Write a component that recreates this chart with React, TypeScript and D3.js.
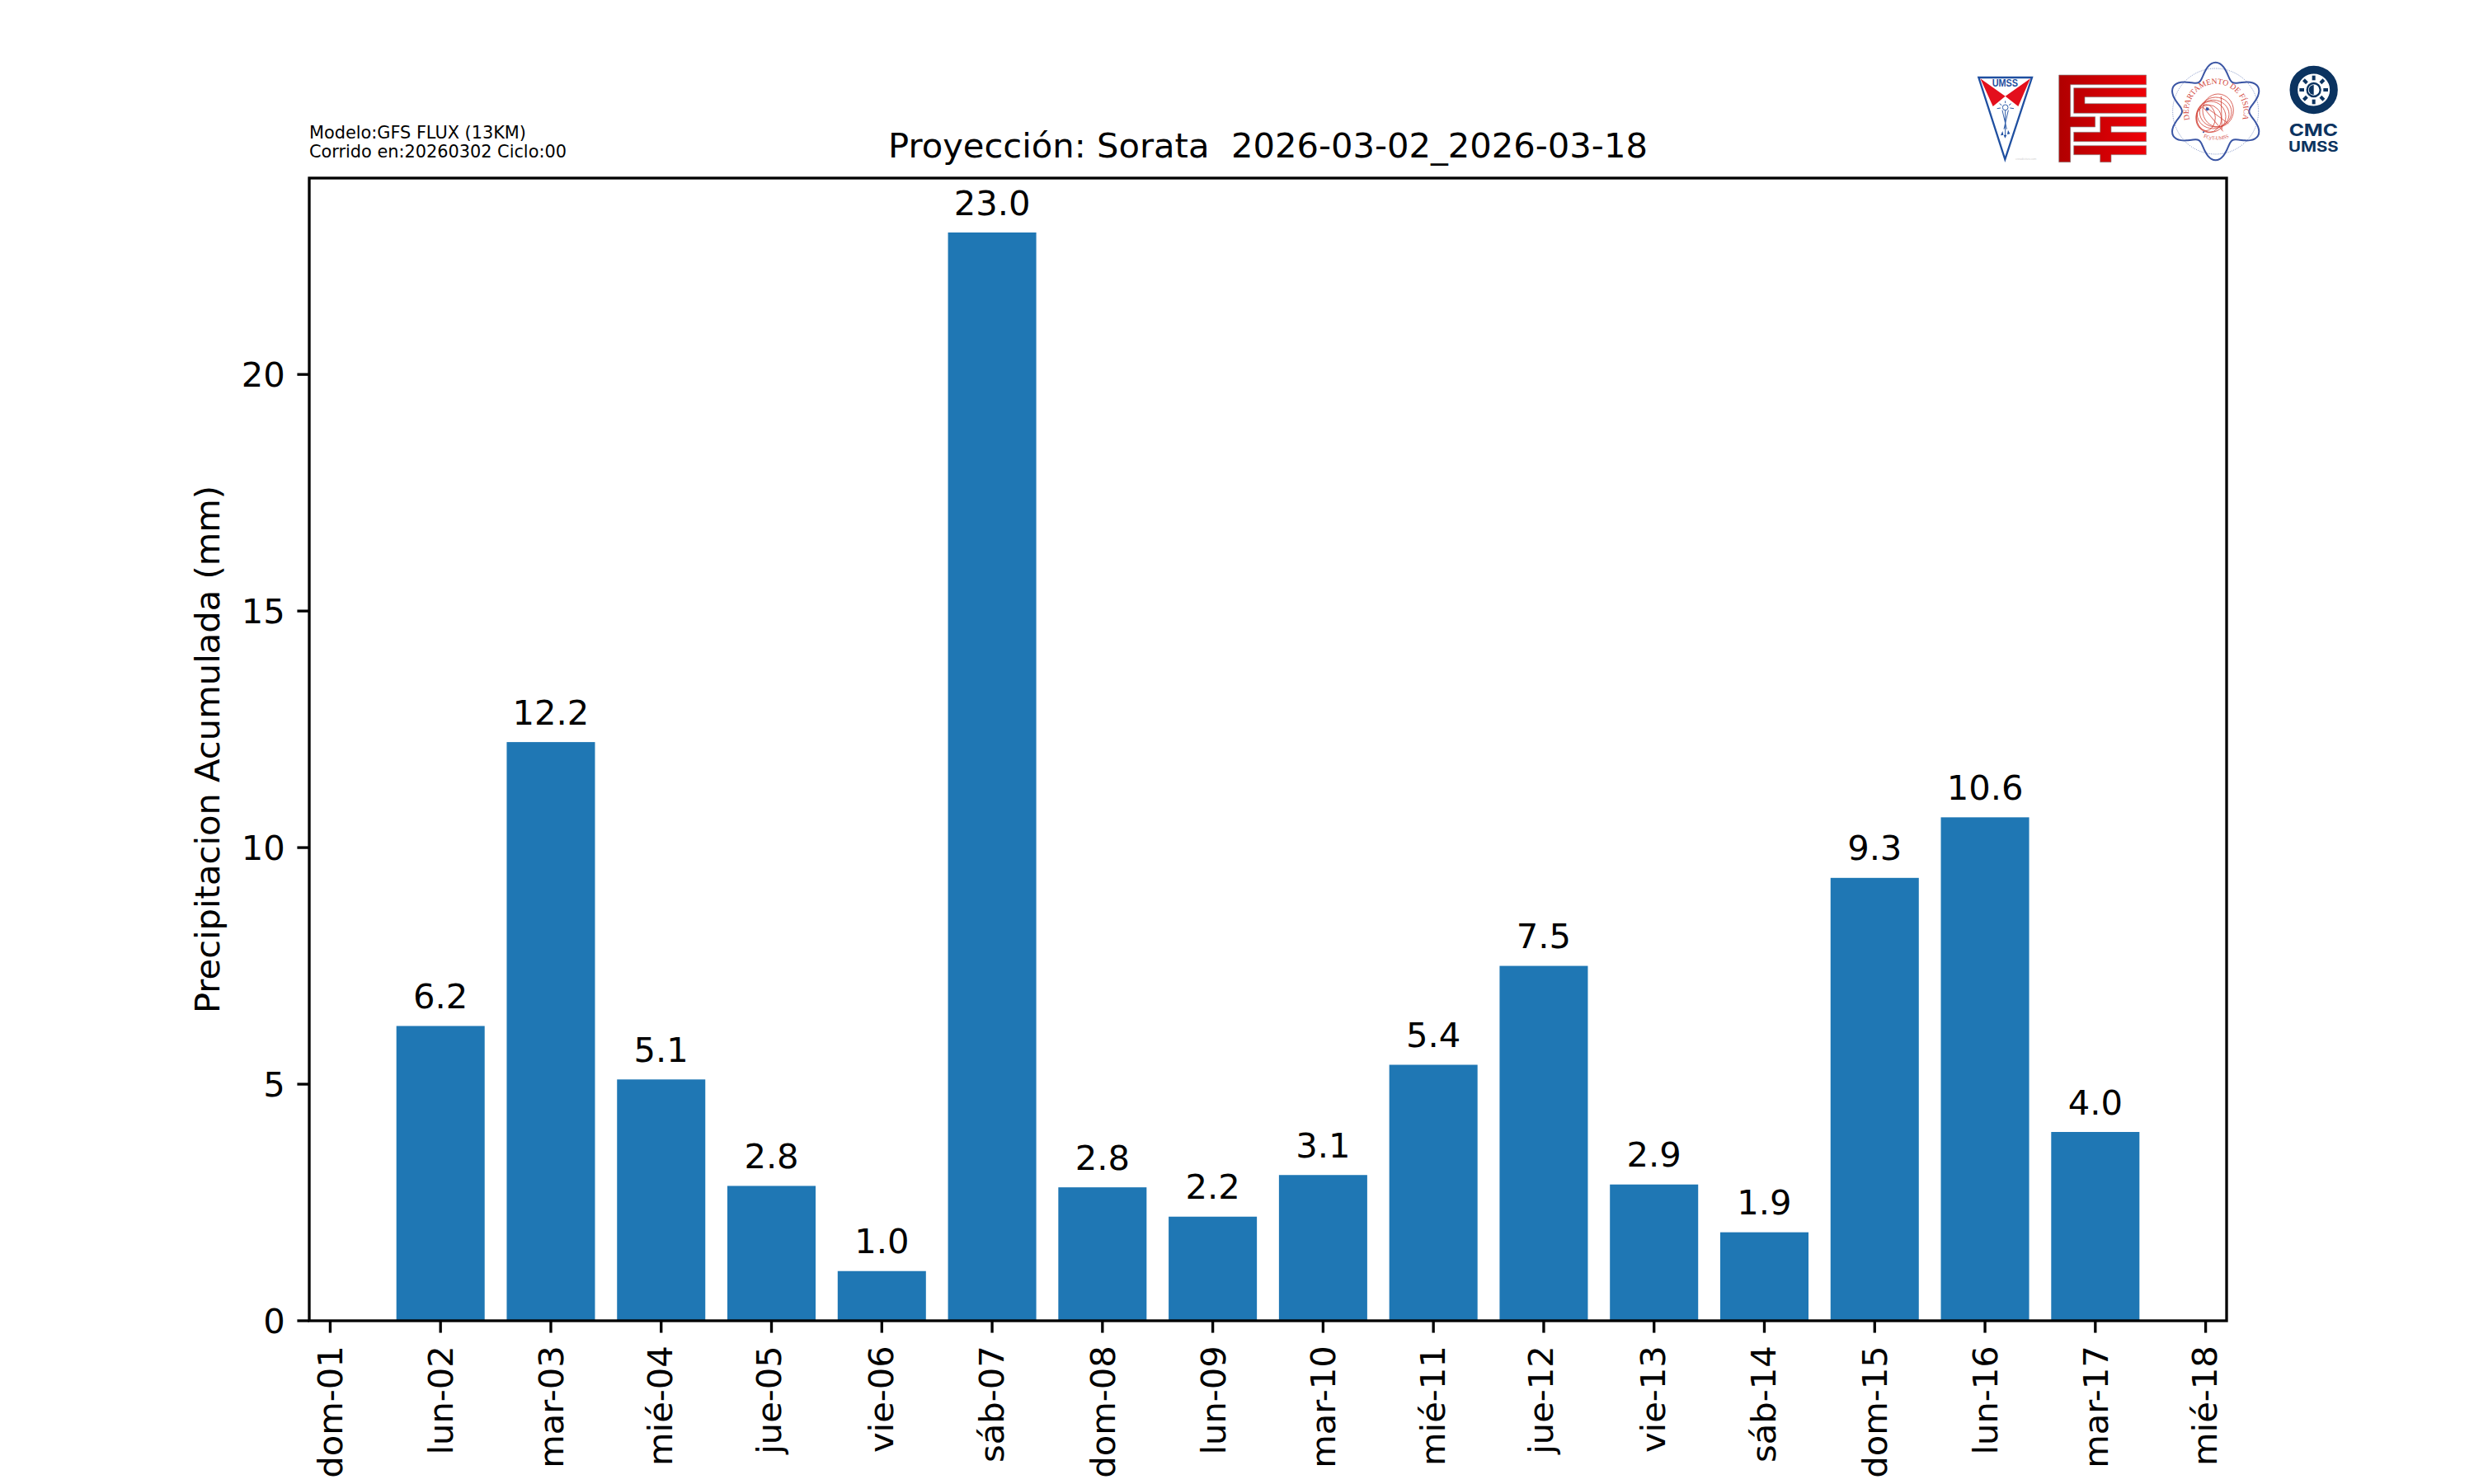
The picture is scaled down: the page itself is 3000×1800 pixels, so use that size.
import React, { useEffect, useRef } from 'react'
import * as d3 from 'd3'

const WIDTH = 3000
const HEIGHT = 1800

const tickDays = [1, 2, 3, 4, 5, 6, 7, 8, 9, 10, 11, 12, 13, 14, 15, 16, 17, 18]
const tickLabels = ['dom-01', 'lun-02', 'mar-03', 'mié-04', 'jue-05', 'vie-06', 'sáb-07', 'dom-08', 'lun-09', 'mar-10', 'mié-11', 'jue-12', 'vie-13', 'sáb-14', 'dom-15', 'lun-16', 'mar-17', 'mié-18']
const barDays = [2, 3, 4, 5, 6, 7, 8, 9, 10, 11, 12, 13, 14, 15, 16, 17]
const barValues = [6.23, 12.23, 5.1, 2.85, 1.05, 23.0, 2.82, 2.2, 3.08, 5.41, 7.5, 2.88, 1.87, 9.36, 10.64, 3.99]
const barLabels = ['6.2', '12.2', '5.1', '2.8', '1.0', '23.0', '2.8', '2.2', '3.1', '5.4', '7.5', '2.9', '1.9', '9.3', '10.6', '4.0']
const yTicks = [0, 5, 10, 15, 20]

const FONT = '"DejaVu Sans", sans-serif'
const PT = 300 / 72 // figure was 300 dpi

const NAVY = '#0b3360'
const FISICA_BLUE = '#3a55a4'
const FISICA_RED = '#d2453a'

// rotated labels are centred on their own box, so the baseline shifts with the glyphs
const labelShift = (label: string) => {
    if (label.startsWith('jue')) return 11
    if (/^(mié|vie|sáb)/.test(label)) return 13.5
    return 15
}

function UmssLogo() {
    return (
        <g transform="translate(2390,85) scale(0.3333)">
            <path d="M28,27 L222,27 L124,325 Z" fill="#fff" stroke="#1f4fa0" strokeWidth={7} strokeLinejoin="miter" />
            <path d="M34,31 L125,95 L80,132 Z" fill="#e30f1c" />
            <path d="M216,31 L125,95 L172,132 Z" fill="#e30f1c" />
            <text x={124} y={60} textAnchor="middle" fontFamily="Liberation Sans" fontWeight="bold" fontSize={36} fill="#1f4fa0" textLength={94} lengthAdjust="spacingAndGlyphs">UMSS</text>
            <g fill="none" stroke="#2f5ca8" strokeWidth={3}>
                <circle cx={125} cy={136} r={10} />
                <path d="M114,146 L130,215 M136,146 L120,215 M125,146 L125,240" />
                <path d="M95,140 L108,138 M142,138 L156,140 M104,122 L112,128 M146,122 L138,128 M125,112 L125,120" />
            </g>
            <path d="M108,238 L115,222 L118,236 Z M142,232 L135,218 L132,234 Z M124,248 L119,236 L130,236 Z" fill="#1f4fa0" />
            <text x={200} y={328} textAnchor="middle" fontFamily="Liberation Sans" fontSize={11} fill="#cfcfcf">creadictivo.com</text>
        </g>
    )
}

function FcytLogo() {
    return (
        <g transform="translate(2490,85) scale(0.3333)" fill="url(#fcytRed)" stroke="#8a8a8a" strokeWidth={2}>
            <path d="M20,18 H338 V53 H62 V170 H152 V207 H62 V335 H20 Z" />
            <path d="M74,65 H338 V98 H114 V122 H338 V157 H74 Z" />
            <path d="M170,170 H338 V205 H210 V226 H338 V260 H74 V226 H170 Z" />
            <path d="M74,275 H338 V308 H210 V335 H170 V308 H74 Z" />
        </g>
    )
}

function FisicaLogo() {
    // six-lobed outline of the seal
    const outline = d3.lineRadial<number>()
        .angle(a => a)
        .radius(a => 150 + 28 * Math.cos(6 * a))
        .curve(d3.curveCardinalClosed)(d3.range(0, Math.PI * 2, Math.PI / 36))
    return (
        <g transform="translate(2625,70) scale(0.3333)">
            <defs>
                <path id="fisicaArc" d="M102,248 A100,100 0 1 1 272,248" />
                <path id="fcytArc" d="M105,268 A125,125 0 0 0 269,268" />
            </defs>
            <circle cx={185} cy={195} r={156} fill="none" stroke={FISICA_BLUE} strokeWidth={2} strokeDasharray="3 4" />
            <path d={outline ?? ''} transform="translate(185,195)" fill="none" stroke={FISICA_BLUE} strokeWidth={6} />
            <text fontFamily='"Liberation Serif", serif' fontSize={29} fill={FISICA_RED}>
                <textPath href="#fisicaArc" startOffset="50%" textAnchor="middle">DEPARTAMENTO DE FÍSICA</textPath>
            </text>
            <text fontFamily='"Liberation Serif", serif' fontSize={18} fill={FISICA_RED}>
                <textPath href="#fcytArc" startOffset="50%" textAnchor="middle">FCyT-UMSS</textPath>
            </text>
            <g fill="none" stroke={FISICA_RED} strokeWidth={2.5}>
                <ellipse cx={194} cy={192} rx={56} ry={60} />
                <ellipse cx={185} cy={198} rx={58} ry={54} />
                <ellipse cx={176} cy={206} rx={58} ry={52} />
                <ellipse cx={168} cy={215} rx={54} ry={56} />
                <ellipse cx={160} cy={222} rx={46} ry={50} />
                <ellipse cx={150} cy={218} rx={34} ry={48} />
                <path d="M138,178 L212,268 M150,180 L232,240 M205,140 L208,262" />
            </g>
            <circle cx={155} cy={187} r={6} fill={FISICA_BLUE} />
            <circle cx={141} cy={271} r={3} fill={FISICA_BLUE} />
        </g>
    )
}

function CmcLogo() {
    const rays = d3.range(0, 360, 45)
    return (
        <g transform="translate(2765,75) scale(0.3333)">
            <circle cx={122} cy={102} r={73} fill="none" stroke={NAVY} strokeWidth={29} />
            <circle cx={122} cy={102} r={24} fill="none" stroke={NAVY} strokeWidth={7} />
            <path d="M122,84 A18,18 0 0 0 122,120 Z" fill={NAVY} />
            {rays.map(r => (
                <rect key={r} x={116} y={50} width={12} height={17} fill={NAVY} transform={`rotate(${r} 122 102)`} />
            ))}
            <text x={121} y={269} textAnchor="middle" fontFamily="Inter" fontWeight="bold" fontSize={62} fill={NAVY} textLength={178} lengthAdjust="spacingAndGlyphs">CMC</text>
            <text x={121} y={328} textAnchor="middle" fontFamily="Inter" fontWeight="bold" fontSize={50} fill={NAVY} textLength={182} lengthAdjust="spacingAndGlyphs">UMSS</text>
        </g>
    )
}

export default function App() {
    const chartRef = useRef<SVGGElement>(null)

    useEffect(() => {
        if (!chartRef.current) return

        const g = d3.select(chartRef.current)
        g.selectAll('*').remove()

        const margin = { top: 216, right: 300, bottom: 198, left: 375 }
        const x = d3.scaleLinear().domain([0.81, 18.19]).range([margin.left, WIDTH - margin.right])
        const y = d3.scaleLinear().domain([0, 24.15]).range([HEIGHT - margin.bottom, margin.top])
        const bar = 0.8

        const rows = barDays.map((day, i) => ({ day, value: barValues[i], label: barLabels[i] }))

        g.append('g')
            .selectAll('rect')
            .data(rows)
            .enter().append('rect')
            .attr('x', d => x(d.day - bar / 2))
            .attr('y', d => y(d.value))
            .attr('width', d => x(d.day + bar / 2) - x(d.day - bar / 2))
            .attr('height', d => y(0) - y(d.value))
            .attr('fill', '#1f77b4')

        g.append('g')
            .selectAll('text')
            .data(rows)
            .enter().append('text')
            .attr('x', d => x(d.day))
            .attr('y', d => y(d.value) - 21.5)
            .attr('text-anchor', 'middle')
            .attr('font-family', FONT)
            .attr('font-size', 10 * PT)
            .text(d => d.label)

        // X Axis
        const xAxis = g.append('g')
            .attr('transform', `translate(0,${y(0)})`)
            .call(d3.axisBottom(x)
                .tickValues(tickDays)
                .tickFormat((_, i) => tickLabels[i])
                .tickSize(3.5 * PT)
                .offset(0))
        xAxis.select('.domain').remove()
        xAxis.selectAll('line').attr('stroke', '#000').attr('stroke-width', 0.8 * PT)
        xAxis.selectAll('text')
            .attr('y', 0)
            .attr('dy', 0)
            .attr('transform', (_, i) => `translate(${labelShift(tickLabels[i])},${7 * PT + 1}) rotate(-90)`)
            .attr('text-anchor', 'end')
            .attr('font-family', FONT)
            .attr('font-size', 10 * PT)
            .attr('fill', '#000')

        // Y Axis
        const yAxis = g.append('g')
            .attr('transform', `translate(${margin.left},0)`)
            .call(d3.axisLeft(y).tickValues(yTicks).tickSize(3.5 * PT).offset(0))
        yAxis.select('.domain').remove()
        yAxis.selectAll('line').attr('stroke', '#000').attr('stroke-width', 0.8 * PT)
        yAxis.selectAll('text')
            .attr('x', -7 * PT)
            .attr('dy', '0.36em')
            .attr('font-family', FONT)
            .attr('font-size', 10 * PT)
            .attr('fill', '#000')

        // frame
        g.append('rect')
            .attr('x', margin.left)
            .attr('y', margin.top)
            .attr('width', WIDTH - margin.left - margin.right)
            .attr('height', HEIGHT - margin.top - margin.bottom)
            .attr('fill', 'none')
            .attr('stroke', '#000')
            .attr('stroke-width', 0.8 * PT)

        g.append('text')
            .attr('transform', `translate(266,${(margin.top + HEIGHT - margin.bottom) / 2}) rotate(-90)`)
            .attr('text-anchor', 'middle')
            .attr('font-family', FONT)
            .attr('font-size', 10 * PT)
            .text('Precipitacion Acumulada (mm)')

        g.append('text')
            .attr('x', (margin.left + WIDTH - margin.right) / 2)
            .attr('y', margin.top - 6 * PT)
            .attr('text-anchor', 'middle')
            .attr('font-family', FONT)
            .attr('font-size', 10 * PT)
            .style('white-space', 'pre')
            .text('Proyección: Sorata  2026-03-02_2026-03-18')

        const note = g.append('g')
            .attr('font-family', FONT)
            .attr('font-size', 5 * PT)
        note.append('text').attr('x', 375).attr('y', 168).text('Modelo:GFS FLUX (13KM)')
        note.append('text').attr('x', 375).attr('y', 191).text('Corrido en:20260302 Ciclo:00')
    }, [])

    return (
        <svg width={WIDTH} height={HEIGHT} viewBox={`0 0 ${WIDTH} ${HEIGHT}`} style={{ position: 'absolute', left: 0, top: 0, background: '#fff' }}>
            <defs>
                <linearGradient id="fcytRed" gradientUnits="userSpaceOnUse" x1={20} x2={340} y1={0} y2={0}>
                    <stop offset="0" stopColor="#b00000" />
                    <stop offset="1" stopColor="#f00008" />
                </linearGradient>
            </defs>
            <g ref={chartRef} />
            <UmssLogo />
            <FcytLogo />
            <FisicaLogo />
            <CmcLogo />
        </svg>
    )
}
